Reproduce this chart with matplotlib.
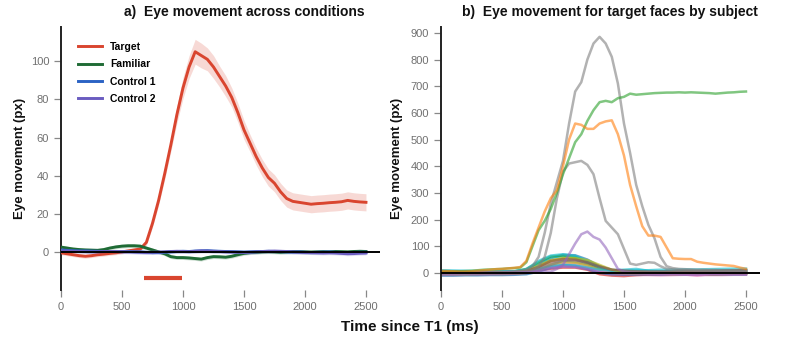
import numpy as np
import matplotlib
matplotlib.use("Agg")
import matplotlib.pyplot as plt

plt.rcParams['font.family'] = ['Liberation Sans', 'DejaVu Sans']

# ---------------- data: panel a ----------------
time_a = list(range(0, 2501, 50))
target = [-0.5, -1.0, -1.5, -2.0, -2.3, -2.0, -1.5, -1.2, -0.8, -0.5,
          0.0, 0.5, 1.0, 1.5, 5.0, 15.0, 27.0, 41.0, 56.0, 72.0,
          86.0, 97.0, 105.0, 103.0, 101.0, 97.0, 92.0, 87.0, 81.0, 73.0,
          64.0, 57.0, 50.0, 44.0, 39.0, 36.0, 31.5, 28.0, 26.5, 26.0,
          25.5, 25.0, 25.3, 25.5, 25.8, 26.0, 26.3, 27.0, 26.5, 26.2, 26.0]
target_ci = [1.0, 1.0, 1.0, 1.0, 1.0, 1.0, 1.0, 1.0, 1.0, 1.0,
             1.0, 1.0, 1.0, 1.2, 1.5, 2.0, 2.5, 3.0, 3.5, 4.5,
             5.5, 6.0, 6.5, 6.5, 6.0, 6.0, 5.5, 5.5, 5.0, 5.0,
             5.0, 4.5, 4.5, 4.5, 4.5, 4.5, 4.5, 4.5, 4.5, 4.5,
             4.5, 4.5, 4.5, 4.5, 4.5, 4.5, 4.5, 4.5, 4.5, 4.5, 4.5]
familiar = [2.5, 2.0, 1.5, 1.2, 1.0, 0.9, 0.8, 1.2, 2.0, 2.6,
            3.0, 3.2, 3.2, 3.0, 2.0, 1.0, 0.0, -1.0, -2.5, -3.0,
            -3.0, -3.2, -3.5, -3.8, -3.0, -2.5, -2.6, -2.8, -2.3, -1.5,
            -0.8, -0.4, -0.2, 0.0, 0.1, 0.0, -0.2, 0.0, 0.2, 0.1,
            0.0, -0.1, 0.0, 0.1, 0.0, 0.2, 0.1, 0.0, 0.2, 0.3, 0.2]
control1 = [1.0, 0.8, 0.6, 0.5, 0.5, 0.4, 0.3, 0.2, 0.2, 0.1,
            0.1, 0.2, 0.1, 0.0, -0.2, -0.4, -0.3, -0.2, 0.0, 0.2,
            0.3, 0.2, 0.4, 0.5, 0.6, 0.4, 0.3, 0.2, 0.1, 0.0,
            -0.1, 0.0, 0.1, 0.2, 0.3, 0.2, 0.1, 0.0, -0.1, 0.0,
            -0.2, -0.3, -0.2, -0.1, 0.0, -0.2, -0.3, -0.4, -0.3, -0.2, -0.2]
control2 = [0.5, 0.4, 0.3, 0.2, 0.1, 0.0, 0.0, 0.1, 0.2, 0.2,
            0.1, 0.0, -0.1, -0.2, -0.3, -0.2, -0.1, 0.0, 0.2, 0.3,
            0.2, 0.1, 0.3, 0.5, 0.4, 0.3, 0.2, 0.0, -0.1, -0.2,
            -0.3, -0.2, 0.0, 0.2, 0.3, 0.4, 0.3, 0.2, 0.0, -0.2,
            -0.3, -0.4, -0.5, -0.6, -0.5, -0.6, -0.8, -1.0, -0.9, -0.7, -0.6]
small_ci = 1.0
labels_a = ["Target", "Familiar", "Control 1", "Control 2"]
colors_a = ["#d9452f", "#1f6b35", "#2b63c4", "#6a5cc0"]
sig_window = [680, 990]
sig_level = -13.5

# ---------------- data: panel b ----------------
time_b = list(range(0, 2501, 50))
gray_big = [5, 5, 4, 4, 4, 3, 3, 3, 3, 4, 4, 5, 6, 8, 12, 25, 60, 150, 260, 340,
            420, 560, 680, 715, 800, 860, 885, 860, 810, 710, 560, 450, 330, 250,
            180, 130, 60, 25, 18, 15, 14, 13, 12, 12, 11, 11, 10, 10, 10, 9, 9]
gray_med = [0, 0, 1, 1, 1, 1, 2, 2, 2, 3, 3, 3, 4, 4, 5, 10, 25, 60, 150, 280,
            380, 410, 415, 420, 405, 370, 280, 195, 170, 145, 90, 35, 30, 35,
            40, 38, 25, 15, 12, 10, 10, 10, 9, 9, 9, 8, 8, 8, 8, 8, 8]
green_s = [5, 5, 6, 6, 7, 8, 10, 12, 13, 14, 15, 17, 18, 20, 40, 100, 160, 195, 240, 300,
           370, 430, 490, 520, 570, 610, 640, 645, 640, 655, 660, 672, 668, 670,
           672, 674, 675, 676, 676, 677, 676, 677, 676, 675, 674, 672, 674, 676, 677, 679, 680]
orange_s = [8, 7, 6, 5, 5, 6, 8, 10, 12, 14, 15, 17, 19, 22, 45, 110, 170, 230, 280, 310,
            400, 500, 560, 555, 540, 540, 560, 568, 572, 520, 440, 330, 250, 175,
            140, 140, 135, 95, 55, 53, 52, 52, 42, 38, 35, 32, 30, 28, 26, 20, 15]
purple_s = [-2, -2, -2, -1, -1, -1, 0, 0, 0, 0, 0, 1, 1, 2, 3, 4, 5, 5, 5, 15,
            30, 70, 110, 145, 155, 135, 125, 95, 55, 15, 5, 2, 1, 0, 0, 0, 0,
            0, 0, 0, 0, 0, 0, 0, 0, 0, 0, 0, 0, 0, 0]
big_subjects = [gray_big, gray_med, green_s, orange_s, purple_s]
big_colors = ["#7f7f7f", "#7f7f7f", "#2ca02c", "#ff7f0e", "#9467bd"]

time_c = list(range(0, 2501, 100))
sub_blue = [5, 3, 2, 2, 3, 4, 5, 10, 30, 55, 68, 66, 50, 25, 10, 6, 5, 5, 4, 5, 6, 5, 6, 7, 8, 8]
sub_cyan = [8, 6, 4, 3, 3, 4, 6, 12, 35, 58, 60, 52, 35, 18, 10, 12, 15, 8, 6, 5, 5, 6, 7, 8, 10, 10]
sub_olive = [-3, -2, -2, -1, 0, 0, 2, 8, 28, 48, 55, 56, 45, 25, 8, 2, 0, -2, -3, -2, -3, -2, -4, -3, -2, -2]
sub_green = [2, 2, 1, 1, 2, 3, 5, 15, 40, 62, 65, 60, 40, 20, 8, 5, 3, 3, 2, 2, 3, 3, 2, 3, 3, 3]
sub_brown = [0, 0, 1, 1, 1, 2, 3, 6, 20, 38, 45, 42, 32, 18, 8, 4, 3, 2, 3, 3, 4, 3, 5, 6, 7, 7]
sub_pink = [-8, -8, -7, -7, -6, -6, -5, -2, 12, 28, 35, 34, 24, 8, -2, -6, -8, -8, -9, -8, -7, -8, -8, -8, -7, -7]
sub_red = [-2, -2, -1, -1, 0, 0, 0, 2, 10, 16, 20, 20, 12, -5, -10, -12, -8, -6, -5, -5, -4, -5, -6, -5, -4, -4]
sub_blue2 = [-10, -10, -9, -9, -8, -8, -7, -5, 5, 20, 28, 26, 15, 0, -5, -6, -6, -5, -6, -5, -6, -5, -6, -5, -5, -5]
sub_olive2 = [-5, -5, -5, -4, -4, -4, -3, 0, 10, 30, 40, 38, 28, 12, 0, -3, -4, -4, -4, -5, -4, -4, -5, -4, -3, -3]
sub_pink2 = [5, 4, 4, 3, 3, 3, 4, 6, 15, 22, 25, 24, 18, 8, 4, 2, 0, -2, -4, -5, -6, -10, -5, -3, -2, -2]
sub_cyan2 = [10, 9, 8, 7, 6, 6, 6, 8, 15, 25, 30, 28, 20, 12, 8, 8, 10, 10, 12, 12, 13, 13, 14, 15, 16, 16]
sub_gray = [3, 3, 2, 2, 2, 3, 3, 5, 12, 30, 45, 48, 40, 25, 12, 8, 6, 6, 5, 5, 6, 6, 7, 8, 9, 9]
sub_teal = [6, 5, 4, 4, 4, 5, 6, 14, 45, 65, 70, 64, 45, 22, 10, 7, 6, 6, 5, 6, 6, 7, 7, 8, 9, 9]
sub_yellow = [0, 0, 0, 1, 1, 1, 2, 6, 25, 45, 55, 55, 48, 30, 12, 4, 2, 1, 1, 1, 2, 2, 2, 3, 3, 3]
sub_brown2 = [2, 2, 2, 2, 2, 2, 3, 8, 22, 45, 52, 50, 40, 24, 12, 8, 6, 5, 5, 5, 6, 6, 7, 8, 9, 10]
sub_purple2 = [-6, -6, -5, -5, -5, -4, -3, 0, 8, 18, 24, 22, 14, 2, -4, -5, -5, -6, -6, -5, -6, -6, -5, -5, -5, -5]
small_subjects = [sub_blue, sub_cyan, sub_olive, sub_green, sub_brown, sub_pink,
                  sub_red, sub_blue2, sub_olive2, sub_pink2, sub_cyan2, sub_gray,
                  sub_teal, sub_yellow, sub_brown2, sub_purple2]
small_colors = ["#1f77b4", "#17becf", "#bcbd22", "#2ca02c", "#8c564b", "#e377c2",
                "#d62728", "#1f77b4", "#bcbd22", "#e377c2", "#17becf", "#7f7f7f",
                "#17becf", "#bcbd22", "#8c564b", "#9467bd"]

# ---------------- figure ----------------
fig = plt.figure(figsize=(8, 3.37), dpi=100)
axA = fig.add_axes([0.07625, 0.1395, 0.39875, 0.7805])
axB = fig.add_axes([0.55125, 0.1395, 0.39875, 0.7805])

tick_col = "#707070"
for ax in (axA, axB):
    ax.spines['top'].set_visible(False)
    ax.spines['right'].set_visible(False)
    ax.spines['bottom'].set_visible(False)
    ax.spines['left'].set_color("#222222")
    ax.spines['left'].set_linewidth(1.4)
    ax.tick_params(axis='both', colors="#888888", labelcolor=tick_col,
                   labelsize=8, length=5, width=0.9)
    ax.set_xlim(0, 2615)
    ax.set_xticks([0, 500, 1000, 1500, 2000, 2500])
    ax.set_ylabel("Eye movement (px)", fontsize=9.5, fontweight='bold', color="#111111")

# panel a
series_a = [target, familiar, control1, control2]
for i, (vals, lab, col) in enumerate(zip(series_a, labels_a, colors_a)):
    v = np.array(vals)
    ci = np.array(target_ci) if i == 0 else small_ci
    axA.fill_between(time_a, v - ci, v + ci, color=col, alpha=0.2, lw=0)
handles = []
for vals, lab, col in zip(series_a, labels_a, colors_a):
    h, = axA.plot(time_a, vals, color=col, lw=2.1, label=lab, zorder=3)
    handles.append(h)
axA.axhline(0, color="black", lw=1.4, zorder=4)
axA.plot(sig_window, [sig_level, sig_level], color=colors_a[0], lw=3, solid_capstyle='butt')
axA.set_ylim(-20, 118)
axA.set_yticks([0, 20, 40, 60, 80, 100])
leg = axA.legend(handles=handles, loc='upper left', frameon=False,
                 prop={'weight': 'bold', 'size': 7.5}, handlelength=2.3,
                 labelspacing=0.7, borderaxespad=0.3, bbox_to_anchor=(0.03, 0.97))
axA.yaxis.set_label_coords(-0.11, 0.5)

# panel b
for vals, col in zip(small_subjects, small_colors):
    axB.plot(time_c, vals, color=col, lw=1.8, alpha=0.65)
for vals, col in zip(big_subjects, big_colors):
    axB.plot(time_b, vals, color=col, lw=1.8, alpha=0.6)
axB.axhline(0, color="black", lw=1.4, zorder=4)
axB.set_ylim(-64, 922)
axB.set_yticks(list(range(0, 901, 100)))
axB.yaxis.set_label_coords(-0.12, 0.5)

fig.text(0.306, 0.965, "a)  Eye movement across conditions", ha='center', va='center',
         fontsize=10, fontweight='bold', color="#111111")
fig.text(0.7625, 0.965, "b)  Eye movement for target faces by subject", ha='center', va='center',
         fontsize=10, fontweight='bold', color="#111111")
fig.text(0.5125, 0.03, "Time since T1 (ms)", ha='center', va='center',
         fontsize=11, fontweight='bold', color="#111111")

fig.savefig("out.png", dpi=100)
